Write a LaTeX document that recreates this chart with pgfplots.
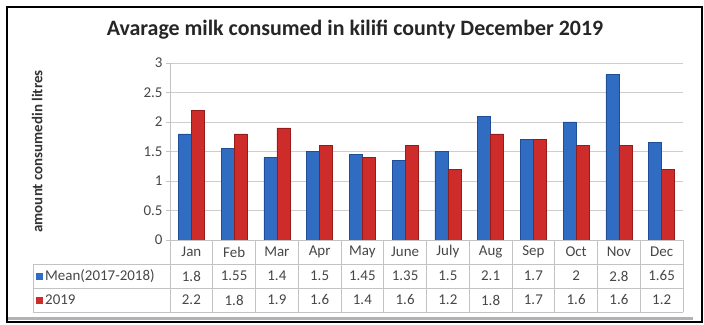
\documentclass[border=0pt]{standalone}
\usepackage{fontspec}
\setmainfont{Carlito}
\usepackage{pgfplots}
\pgfplotsset{compat=1.18}
\definecolor{barblue}{RGB}{48,108,194}
\definecolor{barbluedark}{RGB}{32,78,150}
\definecolor{barred}{RGB}{206,44,42}
\definecolor{barreddark}{RGB}{150,28,28}
\definecolor{gridc}{RGB}{205,205,205}
\definecolor{tablec}{RGB}{195,195,195}
\definecolor{txt}{RGB}{70,70,70}
\begin{document}
\begin{tikzpicture}
\begin{scope}[x=1bp,y=1bp]
\path[use as bounding box] (0,0) rectangle (704,324);
\draw[gray!60, line width=3bp] (8,5.5) -- (693,5.5);
\draw[line width=2bp] (7,2) rectangle (702,317);
\node[font=\bfseries\fontsize{22}{26}\selectfont, text=black!85] at (355,294) {Avarage milk consumed in kilifi county December 2019};
\end{scope}
\begin{axis}[at={(170bp,84bp)}, anchor=south west, scale only axis,
  width=513bp, height=177bp,
  ymin=0, ymax=3, xmin=-0.5, xmax=11.5,
  ytick={0,0.5,1,1.5,2,2.5,3}, xtick=\empty,
  ybar=0pt, bar width=13bp,
  ymajorgrids, grid style={gridc, line width=0.8bp},
  axis x line=none,
  axis y line*=left,
  y axis line style={tablec, line width=0.8bp, -},
  tick align=outside, major tick length=4bp,
  ytick style={tablec, line width=0.8bp},
  yticklabel style={font=\fontsize{15}{17}\selectfont, text=txt, /pgf/number format/assume math mode=true},
  ylabel={amount consumedin litres},
  ylabel style={at={(axis description cs:-0.259,0.5)}, anchor=center, font=\bfseries\fontsize{15}{17}\selectfont, text=black!80},
  clip=false,
]
\addplot[fill=barblue, draw=barbluedark, line width=0.6bp]
  coordinates {(0,1.8) (1,1.55) (2,1.4) (3,1.5) (4,1.45) (5,1.35) (6,1.5) (7,2.1) (8,1.7) (9,2) (10,2.8) (11,1.65)};
\addplot[fill=barred, draw=barreddark, line width=0.6bp]
  coordinates {(0,2.2) (1,1.8) (2,1.9) (3,1.6) (4,1.4) (5,1.6) (6,1.2) (7,1.8) (8,1.7) (9,1.6) (10,1.6) (11,1.2)};
\end{axis}
\begin{scope}[x=1bp,y=1bp]
\begin{scope}[tablec, line width=0.8bp]
\draw (170,84) -- (683,84);
\draw (33,60) -- (683,60);
\draw (33,36) -- (683,36);
\draw (33,12) -- (683,12);
\draw (33,60) -- (33,12);
\foreach \k in {0,...,12} \draw ({170+\k*42.75},84) -- ({170+\k*42.75},12);
\end{scope}
\begin{scope}[font=\fontsize{15}{17}\selectfont, text=txt]
\foreach \m [count=\i from 0] in {Jan,Feb,Mar,Apr,May,June,July,Aug,Sep,Oct,Nov,Dec}
  \node at ({170+(\i+0.5)*42.75},72) {\m};
\foreach \v [count=\i from 0] in {1.8,1.55,1.4,1.5,1.45,1.35,1.5,2.1,1.7,2,2.8,1.65}
  \node at ({170+(\i+0.5)*42.75},48) {\v};
\foreach \v [count=\i from 0] in {2.2,1.8,1.9,1.6,1.4,1.6,1.2,1.8,1.7,1.6,1.6,1.2}
  \node at ({170+(\i+0.5)*42.75},24) {\v};
\fill[barblue] (36,44.5) rectangle (43,51.5);
\fill[barred] (36,20.5) rectangle (43,27.5);
\node[anchor=west, inner sep=1bp] at (44,48) {Mean(2017-2018)};
\node[anchor=west, inner sep=1bp] at (44,24) {2019};
\end{scope}
\end{scope}
\end{tikzpicture}
\end{document}
